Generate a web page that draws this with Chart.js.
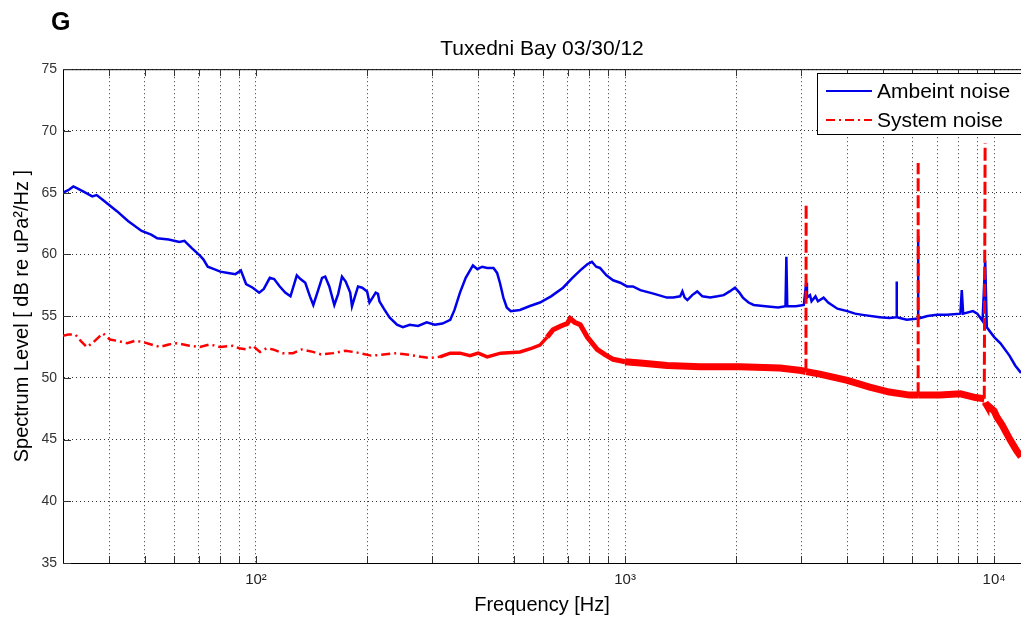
<!DOCTYPE html>
<html>
<head>
<meta charset="utf-8">
<script src="https://cdn.jsdelivr.net/npm/chart.js@4.4.1/dist/chart.umd.min.js"></script>
<style>
  html, body { margin: 0; padding: 0; background: #fff; }
</style>
</head>
<body>
<canvas id="noiseChart" width="1021" height="620"></canvas>
<script>
// values (Hz, dB re uPa^2/Hz)
const ambientFreq = [30, 31, 32, 33, 34.5, 36, 37, 38.5, 40, 42, 45, 49, 52, 54, 58, 62, 64, 67, 70.5, 72, 74, 77, 80, 84, 88, 91, 94, 98,
  102, 105, 109, 112, 116, 120, 124, 129, 132, 136, 140, 143, 147, 151, 154, 158, 163, 167, 171, 175, 180, 182, 185, 189, 194,
  200, 203, 207, 211, 214, 216, 222, 230, 241, 250, 261, 275, 290, 305, 320, 336, 345, 357, 370, 387, 398, 410, 423, 440, 450,
  458, 468, 478, 490, 519, 550, 588, 630, 679, 720, 756, 790, 813, 835, 855, 890, 928, 970, 1012, 1050, 1100, 1200, 1298, 1350,
  1410, 1430, 1450, 1475, 1520, 1568, 1620, 1700, 1780, 1850, 1920, 1985, 2040, 2085, 2160, 2230, 2400, 2600, 2720, 2735, 2750,
  2900, 3050, 3094, 3110, 3170, 3200, 3280, 3330, 3450, 3550, 3760, 4000, 4200, 4400, 4900, 5200, 5430, 5440, 5450, 5800, 6220,
  6223, 6226, 6600, 7000, 7450, 8100, 8170, 8240, 8760, 9000, 9300, 9454, 9550, 10000, 10400, 11000, 11400, 11821];
const ambientLevel = [65.0, 65.2, 65.5, 65.3, 65.0, 64.7, 64.8, 64.4, 64.0, 63.5, 62.7, 61.9, 61.6, 61.3, 61.2, 61.0, 61.1, 60.5, 59.9,
  59.6, 59.0, 58.8, 58.6, 58.5, 58.4, 58.7, 57.6, 57.3, 56.9, 57.2, 58.1, 58.0, 57.4, 56.9, 56.6, 58.3, 58.0, 57.7, 56.6, 55.9,
  57.0, 58.1, 58.2, 57.4, 55.9, 56.8, 58.2, 57.8, 56.9, 55.8, 56.5, 57.4, 57.3, 57.0, 56.1, 56.5, 56.9, 56.8, 56.2, 55.6, 54.9,
  54.3, 54.1, 54.3, 54.2, 54.5, 54.3, 54.4, 54.7, 55.5, 56.9, 58.1, 59.1, 58.8, 59.0, 58.9, 58.9, 58.5, 57.7, 56.5, 55.7, 55.4,
  55.5, 55.8, 56.1, 56.6, 57.3, 58.1, 58.7, 59.2, 59.4, 59.0, 58.9, 58.3, 57.9, 57.7, 57.4, 57.4, 57.1, 56.8, 56.5, 56.5, 56.6,
  57.0, 56.5, 56.3, 56.7, 57.0, 56.6, 56.5, 56.6, 56.7, 57.0, 57.3, 56.9, 56.5, 56.1, 55.9, 55.8, 55.7, 55.8, 59.8, 55.8, 55.8,
  55.9, 57.7, 56.5, 56.7, 56.2, 56.6, 56.2, 56.5, 56.1, 55.6, 55.4, 55.2, 55.1, 54.9, 54.85, 54.9, 57.8, 54.9, 54.7, 54.8, 61.5,
  54.8, 55.0, 55.1, 55.1, 55.2, 57.1, 55.2, 55.4, 55.2, 54.6, 59.5, 54.1, 53.3, 52.8, 51.8, 51.0, 50.4];

const systemFreq = [30, 31, 32.4, 33.5, 34.8, 36, 37.5, 38.5, 40.2, 42, 44.8, 47, 49.4, 52, 54.9, 58, 61.1, 66, 70.5, 75, 79.9, 86.6,
  90, 94.5, 98, 102.5, 107, 111.2, 118, 125.9, 133, 142.7, 150, 161.6, 175, 191.3, 205, 216.6, 240, 261.3, 280, 296.1, 315, 336,
  357, 380, 400, 423, 460, 519, 560, 588, 615, 638, 670, 697, 710, 730, 756, 790, 840, 880, 928, 1000, 1100, 1300, 1600, 2050,
  2627, 3000, 3090, 3094, 3098, 3370, 4000, 4600, 5200, 5900, 6219, 6223, 6227, 7130, 8100, 8900, 9400, 9450, 9458, 9500,
  10000, 10177, 10500, 11036, 11500, 11821];
const systemLevel = [53.4, 53.5, 53.5, 53.0, 52.5, 52.8, 53.3, 53.6, 53.1, 53.0, 52.8, 53.0, 52.9, 52.7, 52.5, 52.7, 52.8, 52.6, 52.5,
  52.7, 52.5, 52.6, 52.4, 52.3, 52.6, 52.1, 52.4, 52.3, 52.0, 52.0, 52.3, 52.1, 51.9, 52.0, 52.2, 52.0, 51.8, 51.85, 52.0, 51.85,
  51.7, 51.6, 51.7, 52.0, 52.0, 51.8, 52.0, 51.7, 52.0, 52.1, 52.4, 52.65, 53.3, 53.9, 54.2, 54.4, 54.8, 54.5, 54.3, 53.3, 52.3,
  51.9, 51.5, 51.3, 51.2, 51.0, 50.9, 50.9, 50.8, 50.6, 50.5, 64.0, 50.5, 50.3, 49.8, 49.25, 48.85, 48.6, 48.6, 67.4, 48.6, 48.6,
  48.7, 48.4, 48.3, 69.0, 48.0, 47.9, 47.3, 46.8, 46.2, 45.0, 44.1, 43.6];

const gridFreqs = [40, 50, 60, 70, 80, 90, 100, 200, 300, 400, 500, 600, 700, 800, 900,
  1000, 2000, 3000, 4000, 5000, 6000, 7000, 8000, 9000, 10000];
const decadeFreqs = [100, 1000, 10000];
const decadeLabels = ['10²', '10³', '10⁴'];

const FONT = '"Liberation Sans", Arial, Helvetica, sans-serif';

function toPoints(xs, ys) {
  return xs.map((f, i) => ({ x: f, y: ys[i] }));
}

// red trace: dash-dot where it is sparse, thick where it is dense, dashed spikes
function spikeUp(c) { return c.p1.parsed.y - c.p0.parsed.y > 5; }
function spikeDown(c) { return c.p0.parsed.y - c.p1.parsed.y > 5; }
function redWidth(c) {
  if (spikeUp(c) || spikeDown(c)) return 3;
  const f = c.p0.parsed.x;
  if (f < 300) return 2.5;
  if (f < 600) return 3.5;
  if (f < 1000) return 5;
  return 7;
}
function redDash(c) {
  if (spikeUp(c)) return [13, 4];
  return c.p0.parsed.x < 300 ? [9, 4, 2, 4] : [];
}
function redColor(c) {
  // the falling edge of a spike is hidden so the spike stays dashed
  return spikeDown(c) ? 'rgba(255,0,0,0)' : undefined;
}

// MATLAB look: top border, inward tick marks, panel letter, boxed legend
const matlabFrame = {
  id: 'matlabFrame',
  afterDraw(chart) {
    const { ctx, chartArea: a, scales: { x, y } } = chart;
    ctx.save();
    ctx.setLineDash([]);
    ctx.strokeStyle = '#000';
    ctx.lineWidth = 1;
    ctx.beginPath();
    ctx.moveTo(a.left, a.top + 0.5);
    ctx.lineTo(a.right, a.top + 0.5);
    ctx.stroke();

    ctx.strokeStyle = '#333';
    ctx.beginPath();
    x.ticks.forEach(t => {
      const px = Math.round(x.getPixelForValue(t.value)) + 0.5;
      ctx.moveTo(px, a.bottom); ctx.lineTo(px, a.bottom - 7);
      ctx.moveTo(px, a.top); ctx.lineTo(px, a.top + 7);
    });
    y.ticks.forEach(t => {
      const py = Math.round(y.getPixelForValue(t.value)) + 0.5;
      ctx.moveTo(a.left, py); ctx.lineTo(a.left + 8, py);
    });
    ctx.stroke();

    ctx.fillStyle = '#000';
    ctx.font = 'bold 25px ' + FONT;
    ctx.textBaseline = 'alphabetic';
    ctx.textAlign = 'left';
    ctx.fillText('G', 51, 30);

    // legend
    const lx = 817, ly = 73, lw = 210, lh = 61;
    ctx.fillStyle = '#fff';
    ctx.fillRect(lx, ly, lw, lh);
    ctx.strokeStyle = '#000';
    ctx.lineWidth = 1;
    ctx.strokeRect(lx + 0.5, ly + 0.5, lw, lh);
    ctx.font = '21px ' + FONT;
    ctx.textBaseline = 'middle';
    chart.data.datasets.forEach((ds, i) => {
      const rowY = 91 + i * 29;
      ctx.strokeStyle = ds.borderColor;
      ctx.lineWidth = 2;
      ctx.setLineDash(ds.legendDash || []);
      ctx.beginPath();
      ctx.moveTo(826, rowY); ctx.lineTo(872, rowY);
      ctx.stroke();
      ctx.setLineDash([]);
      ctx.fillStyle = '#000';
      ctx.fillText(ds.label, 877, rowY + 1);
    });
    ctx.restore();
  }
};

const ctx = document.getElementById('noiseChart').getContext('2d');
const noiseChart = new Chart(ctx, {
  type: 'line',
  data: {
    datasets: [{
      label: 'Ambeint noise',
      data: toPoints(ambientFreq, ambientLevel),
      borderColor: 'rgb(0,0,235)',
      borderWidth: 2.5,
      pointRadius: 0,
      order: 1
    }, {
      label: 'System noise',
      data: toPoints(systemFreq, systemLevel),
      borderColor: 'rgb(255,0,0)',
      borderWidth: 2.5,
      legendDash: [9, 4, 2, 4],
      pointRadius: 0,
      order: 0,
      segment: { borderWidth: redWidth, borderDash: redDash, borderColor: redColor }
    }]
  },
  options: {
    responsive: false,
    animation: false,
    layout: { padding: 0 },
    plugins: {
      legend: { display: false },
      tooltip: { enabled: false },
      title: {
        display: true,
        text: 'Tuxedni Bay 03/30/12',
        fullSize: false,
        color: '#000',
        font: { family: FONT, size: 21, weight: 'normal' },
        padding: { top: 37, bottom: 7 }
      }
    },
    scales: {
      x: {
        type: 'logarithmic',
        min: 30,
        max: 11821,
        afterBuildTicks: s => { s.ticks = gridFreqs.map(v => ({ value: v })); },
        afterFit: s => { s.height = 57; },
        ticks: {
          autoSkip: false,
          maxRotation: 0,
          padding: 8,
          color: '#222',
          font: { family: FONT, size: 15 },
          callback: v => {
            const i = decadeFreqs.indexOf(v);
            return i >= 0 ? decadeLabels[i] : '';
          }
        },
        grid: { color: 'rgba(0,0,0,0.8)', drawTicks: false },
        border: { display: true, color: '#000', width: 1, dash: [1, 3] },
        title: {
          display: true,
          text: 'Frequency [Hz]',
          color: '#000',
          font: { family: FONT, size: 20 },
          padding: { top: 0, bottom: 3 }
        }
      },
      y: {
        min: 35,
        max: 75,
        afterFit: s => { s.width = 63; },
        ticks: {
          stepSize: 5,
          padding: 6,
          color: '#333',
          font: { family: FONT, size: 14 }
        },
        grid: { color: 'rgba(0,0,0,0.8)', drawTicks: false },
        border: { display: true, color: '#000', width: 1, dash: [1, 3] },
        title: {
          display: true,
          text: 'Spectrum Level [ dB re uPa²/Hz ]',
          color: '#000',
          font: { family: FONT, size: 20 },
          padding: { top: 10, bottom: 0 }
        }
      }
    }
  },
  plugins: [matlabFrame]
});
</script>
</body>
</html>
